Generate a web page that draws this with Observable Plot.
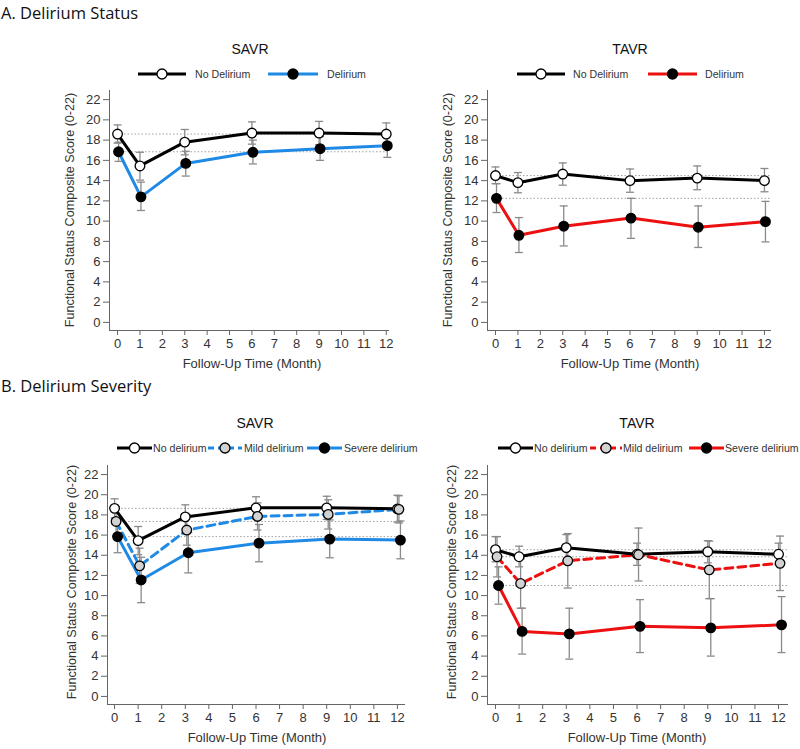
<!DOCTYPE html>
<html>
<head>
<meta charset="utf-8">
<script src="https://cdn.jsdelivr.net/npm/d3@7"></script>
<script src="https://cdn.jsdelivr.net/npm/@observablehq/plot@0.6"></script>
<style>
  body { margin: 0; background: #fff; }
  #root { position: relative; width: 800px; height: 749px; overflow: hidden; background: #fff; font-family: "Liberation Sans", Arial, sans-serif; color: #222; }
  .abs { position: absolute; white-space: nowrap; }
  .sec { font-family: "Open Sans", "Lato", sans-serif; font-size: 16.5px; line-height: 22px; color: #111; }
  .ptitle { font-size: 14px; color: #111; transform: translate(-50%, -50%); }
  .xlab { font-size: 13px; color: #333; transform: translate(-50%, -50%); }
  .ylab { font-size: 12.6px; color: #333; transform: translate(-50%, -50%) rotate(-90deg); }
  .leg { font-size: 10.6px; color: #333; transform: translateY(-50%); }
  svg.plot { position: absolute; overflow: visible; }
</style>
</head>
<body>
<div id="root"></div>
<script>
// ---------- data ----------
const months = [0, 1, 3, 6, 9, 12];
const xTicks = [0, 1, 2, 3, 4, 5, 6, 7, 8, 9, 10, 11, 12];
const yTicks = [0, 2, 4, 6, 8, 10, 12, 14, 16, 18, 20, 22];

// A. Delirium status - SAVR
const aSavrNoMean = [18.6, 15.45, 17.8, 18.7, 18.7, 18.6];
const aSavrNoLo   = [17.7, 14.05, 16.55, 17.6, 17.55, 17.45];
const aSavrNoHi   = [19.5, 16.8, 19.05, 19.8, 19.85, 19.7];
const aSavrDelMean = [16.85, 12.4, 15.7, 16.8, 17.15, 17.45];
const aSavrDelLo   = [15.9, 11.05, 14.45, 15.65, 16.0, 16.3];
const aSavrDelHi   = [17.8, 13.85, 16.9, 18.0, 18.35, 18.6];

// A. Delirium status - TAVR
const aTavrNoMean = [14.5, 13.8, 14.65, 14.0, 14.25, 14.0];
const aTavrNoLo   = [13.7, 12.8, 13.55, 12.85, 13.1, 12.9];
const aTavrNoHi   = [15.35, 14.8, 15.75, 15.15, 15.45, 15.2];
const aTavrDelMean = [12.25, 8.6, 9.5, 10.3, 9.4, 9.95];
const aTavrDelLo   = [10.85, 6.9, 7.55, 8.3, 7.4, 7.95];
const aTavrDelHi   = [13.7, 10.35, 11.5, 12.25, 11.5, 11.95];

// B. Delirium severity - SAVR
const bSavrNoMean = [18.65, 15.45, 17.8, 18.7, 18.7, 18.6];
const bSavrNoLo   = [17.7, 14.05, 16.6, 17.6, 17.55, 17.3];
const bSavrNoHi   = [19.6, 16.85, 19.0, 19.8, 19.85, 19.95];
const bSavrMildMean = [17.35, 12.95, 16.5, 17.85, 18.05, 18.55];
const bSavrMildLo   = [15.9, 11.2, 15.0, 16.5, 16.6, 17.2];
const bSavrMildHi   = [18.8, 14.7, 18.0, 19.2, 19.5, 19.9];
const bSavrSevMean = [15.85, 11.55, 14.25, 15.2, 15.6, 15.5];
const bSavrSevLo   = [14.25, 9.3, 12.25, 13.35, 13.75, 13.65];
const bSavrSevHi   = [17.45, 13.8, 16.25, 17.05, 17.5, 17.4];

// B. Delirium severity - TAVR
const bTavrNoMean = [14.55, 13.85, 14.75, 14.1, 14.35, 14.1];
const bTavrNoLo   = [13.35, 12.85, 13.45, 13.0, 13.25, 13.05];
const bTavrNoHi   = [15.85, 14.9, 16.05, 15.2, 15.45, 15.2];
const bTavrMildMean = [13.85, 11.2, 13.45, 14.05, 12.55, 13.2];
const bTavrMildLo   = [11.85, 8.75, 10.75, 11.45, 9.7, 10.5];
const bTavrMildHi   = [15.85, 13.65, 16.15, 16.7, 15.4, 15.9];
const bTavrSevMean = [11.0, 6.45, 6.2, 6.95, 6.8, 7.1];
const bTavrSevLo   = [9.15, 4.2, 3.7, 4.35, 4.0, 4.35];
const bTavrSevHi   = [12.85, 8.75, 8.75, 9.6, 9.7, 9.9];

// ---------- styles ----------
const BLACK = "#000000", BLUE = "#1f8ae6", RED = "#ec1010";
const ERR = "#8a8a8a";

function series(name, mean, lo, hi, color, fill, dash, dx) {
  return {name, color, fill, dash, dx,
    rows: months.map((m, i) => ({month: m, mean: mean[i], lo: lo[i], hi: hi[i]}))};
}

const panels = [
  {left: 0, top: 80, width: 400, height: 290, mL: 109, mR: 12, mT: 10, mB: 40, xd: [-0.36, 12.1],
   series: [
     series("No Delirium", aSavrNoMean, aSavrNoLo, aSavrNoHi, BLACK, "#fff", null, 0),
     series("Delirium", aSavrDelMean, aSavrDelLo, aSavrDelHi, BLUE, "#000", null, 1)
   ]},
  {left: 400, top: 80, width: 400, height: 290, mL: 87, mR: 30, mT: 10, mB: 40, xd: [-0.357, 12.27],
   series: [
     series("No Delirium", aTavrNoMean, aTavrNoLo, aTavrNoHi, BLACK, "#fff", null, 0),
     series("Delirium", aTavrDelMean, aTavrDelLo, aTavrDelHi, RED, "#000", null, 1)
   ]},
  {left: 0, top: 455, width: 420, height: 290, mL: 107, mR: 16, mT: 10, mB: 41, xd: [-0.3, 12.3],
   series: [
     series("No delirium", bSavrNoMean, bSavrNoLo, bSavrNoHi, BLACK, "#fff", null, 0),
     series("Mild delirium", bSavrMildMean, bSavrMildLo, bSavrMildHi, BLUE, "#d2d2d2", "8,5", 1.5),
     series("Severe delirium", bSavrSevMean, bSavrSevLo, bSavrSevHi, BLUE, "#000", null, 3)
   ]},
  {left: 400, top: 455, width: 400, height: 290, mL: 87, mR: 13, mT: 10, mB: 41, xd: [-0.34, 12.38],
   series: [
     series("No delirium", bTavrNoMean, bTavrNoLo, bTavrNoHi, BLACK, "#fff", null, 0),
     series("Mild delirium", bTavrMildMean, bTavrMildLo, bTavrMildHi, RED, "#d2d2d2", "8,5", 1.5),
     series("Severe delirium", bTavrSevMean, bTavrSevLo, bTavrSevHi, RED, "#000", null, 3)
   ]}
];

const hline = {draw(ctx, size) { const r = Math.sqrt(size / Math.PI); ctx.moveTo(-r, 0); ctx.lineTo(r, 0); }};

const root = document.getElementById("root");
function addText(cls, text, x, y) {
  const d = document.createElement("div");
  d.className = "abs " + cls;
  d.textContent = text;
  d.style.left = x + "px";
  d.style.top = y + "px";
  root.appendChild(d);
  return d;
}

for (const p of panels) {
  const baselines = p.series.map(s => s.rows[0].mean);
  const marks = [
    Plot.ruleY(baselines, {y: d => d, x1: 0, x2: p.xd[1], stroke: "#a0a0a0", strokeWidth: 1, strokeDasharray: "1.5,2"})
  ];
  for (const s of p.series) {
    marks.push(Plot.ruleX(s.rows, {x: "month", y1: "lo", y2: "hi", stroke: ERR, strokeWidth: 1.3, dx: s.dx}));
    marks.push(Plot.dot(s.rows, {x: "month", y: "lo", symbol: hline, r: 4, stroke: ERR, strokeWidth: 1.3, fill: "none", dx: s.dx}));
    marks.push(Plot.dot(s.rows, {x: "month", y: "hi", symbol: hline, r: 4, stroke: ERR, strokeWidth: 1.3, fill: "none", dx: s.dx}));
  }
  for (const s of p.series.slice().reverse()) {
    marks.push(Plot.line(s.rows, {x: "month", y: "mean", stroke: s.color, strokeWidth: 3, strokeDasharray: s.dash, dx: s.dx}));
  }
  for (const s of p.series) {
    marks.push(Plot.dot(s.rows, {x: "month", y: "mean", r: 4.8, fill: s.fill, stroke: "#000", strokeWidth: 1.3, dx: s.dx}));
  }
  marks.push(
    Plot.axisX({ticks: xTicks, tickSize: 5, tickPadding: 3, tickFormat: d => String(d), label: null, stroke: "#666", fill: "#333", fontSize: 13}),
    Plot.axisY({ticks: yTicks, tickSize: 6, tickPadding: 3, tickFormat: d => String(d), label: null, stroke: "#666", fill: "#333", fontSize: 13}),
    Plot.frame({anchor: "left", stroke: "#666"}),
    Plot.frame({anchor: "bottom", stroke: "#666"})
  );
  const svg = Plot.plot({
    width: p.width, height: p.height,
    marginLeft: p.mL, marginRight: p.mR, marginTop: p.mT, marginBottom: p.mB,
    x: {domain: p.xd},
    y: {domain: [-0.8, 22.9]},
    style: {fontFamily: "Liberation Sans, Arial, sans-serif", fontSize: "13px", background: "transparent", color: "#333"},
    marks
  });
  svg.classList.add("plot");
  svg.style.left = p.left + "px";
  svg.style.top = p.top + "px";
  root.appendChild(svg);
}

// ---------- text ----------
addText("sec", "A. Delirium Status", 1, 2);
addText("sec", "B. Delirium Severity", 1, 375);
const titles = [["SAVR", 250, 49], ["TAVR", 630, 49], ["SAVR", 255, 423], ["TAVR", 637, 423]];
for (const [t, x, y] of titles) addText("ptitle", t, x, y);
const xlabs = [[252, 363], [630, 363], [257, 737], [637, 737]];
for (const [x, y] of xlabs) addText("xlab", "Follow-Up Time (Month)", x, y);
const ylabs = [[70, 210], [448, 210], [72, 582], [452, 582]];
for (const [x, y] of ylabs) addText("ylab", "Functional Status Composite Score (0-22)", x, y);

// ---------- legends ----------
function legendItem(x1, x2, y, color, fill, dash, label, tx) {
  const w = x2 - x1;
  const ns = "http://www.w3.org/2000/svg";
  const svg = document.createElementNS(ns, "svg");
  svg.setAttribute("width", w + 12);
  svg.setAttribute("height", 14);
  svg.style.position = "absolute";
  svg.style.left = (x1 - 6) + "px";
  svg.style.top = (y - 7) + "px";
  const line = document.createElementNS(ns, "line");
  line.setAttribute("x1", 6); line.setAttribute("x2", 6 + w);
  line.setAttribute("y1", 7); line.setAttribute("y2", 7);
  line.setAttribute("stroke", color); line.setAttribute("stroke-width", 3);
  if (dash) line.setAttribute("stroke-dasharray", dash);
  svg.appendChild(line);
  const c = document.createElementNS(ns, "circle");
  c.setAttribute("cx", 6 + w / 2); c.setAttribute("cy", 7); c.setAttribute("r", 5);
  c.setAttribute("fill", fill); c.setAttribute("stroke", "#000"); c.setAttribute("stroke-width", 1.3);
  svg.appendChild(c);
  root.appendChild(svg);
  addText("leg", label, tx, y);
}
const legends = [
  [[138, 186, 74, 195], [268, 318, 74, 327]],
  [[517, 565, 74, 573], [648, 697, 74, 705]],
  [[117, 152, 448, 153], [208, 242, 448, 244], [307, 342, 448, 344]],
  [[498, 533, 448, 534], [590, 622, 448, 623], [689, 724, 448, 725]]
];
panels.forEach((p, i) => {
  p.series.forEach((s, j) => {
    const [x1, x2, y, tx] = legends[i][j];
    legendItem(x1, x2, y, s.color, s.fill, s.dash ? "6,4" : null, s.name, tx);
  });
});
</script>
</body>
</html>
